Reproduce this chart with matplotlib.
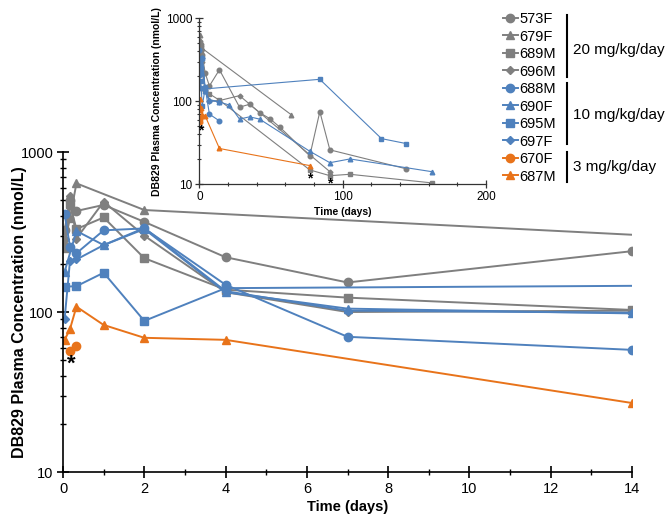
import numpy as np
import matplotlib
matplotlib.use("Agg")
import matplotlib.pyplot as plt
from matplotlib.lines import Line2D
from matplotlib.ticker import FixedLocator, NullFormatter, FixedFormatter, MultipleLocator

plt.rcParams['font.family'] = ['Liberation Sans', 'DejaVu Sans']

# time (days) and DB829 concentration (nmol/L) per animal
# 20 mg/kg/day
t_573F = [0.04, 0.17, 0.33, 1, 2, 4, 7, 14, 28, 35, 42, 49, 56, 77, 84, 91, 144]
v_573F = [325, 500, 428, 467, 366, 220, 153, 240, 85, 92, 73, 62, 49, 22, 75, 26, 15.4]
t_679F = [0.04, 0.17, 0.33, 2, 64]
v_679F = [270, 385, 637, 434, 69]
t_689M = [0.04, 0.17, 0.33, 1, 2, 4, 7, 14, 77, 91, 105, 162]
v_689M = [250, 470, 330, 390, 217, 138, 123, 103, 14.9, 12.7, 13.2, 10.4]
t_696M = [0.04, 0.17, 0.33, 1, 2, 4, 7, 14, 28, 91]
v_696M = [288, 530, 288, 489, 300, 133, 100, 102, 117, 14.2]
# 10 mg/kg/day
t_688M = [0.04, 0.17, 0.33, 1, 2, 4, 7, 14]
v_688M = [410, 256, 233, 324, 333, 148, 70, 58]
t_690F = [0.04, 0.33, 1, 2, 4, 7, 14, 21, 28, 35, 42, 77, 91, 105, 162]
v_690F = [179, 321, 262, 330, 133, 105, 98, 90, 61, 65, 61, 25, 18.2, 20.2, 14.2]
t_695M = [0.04, 0.33, 1, 2, 4, 84, 127, 144]
v_695M = [144, 145, 176, 88, 141, 184, 35.5, 31]
t_697F = [0.04, 0.17, 0.33, 1, 2, 4, 7, 14]
v_697F = [91, 207, 213, 262, 335, 135, 102, 99]
# 3 mg/kg/day
t_670F = [0.17, 0.33]
v_670F = [57, 61]
t_687M = [0.04, 0.17, 0.33, 1, 2, 4, 14, 77]
v_687M = [67, 78, 108, 83, 69, 67, 27, 16.8]

# asterisk positions (days, nmol/L)
star_main = (0.2, 47)
star_inset = [(1, 44), (77, 11.8), (91, 10.3)]

gray = '#7f7f7f'
blue = '#4f81bd'
orange = '#e8731a'

series = [
    ('573F', t_573F, v_573F, gray, 'o', 6),
    ('679F', t_679F, v_679F, gray, '^', 6),
    ('689M', t_689M, v_689M, gray, 's', 5.5),
    ('696M', t_696M, v_696M, gray, 'D', 4.5),
    ('688M', t_688M, v_688M, blue, 'o', 6),
    ('690F', t_690F, v_690F, blue, '^', 6),
    ('695M', t_695M, v_695M, blue, 's', 5.5),
    ('697F', t_697F, v_697F, blue, 'D', 4.5),
    ('670F', t_670F, v_670F, orange, 'o', 6),
    ('687M', t_687M, v_687M, orange, '^', 6),
]

fig = plt.figure(figsize=(6.69, 5.24), dpi=100)
ax = fig.add_axes([0.0942, 0.0992, 0.8505, 0.6107])
axi = fig.add_axes([0.298, 0.6483, 0.4287, 0.3168])

handles = []
for name, t, v, c, m, ms in series:
    ax.plot(t, v, color=c, marker=m, ms=ms, lw=1.4, mec=c)
    axi.plot(t, v, color=c, marker=m, ms=ms * 0.55, lw=0.8, mec=c)
    handles.append(Line2D([], [], color=c, marker=m, ms=ms, lw=1.4, label=name))

# main axes
ax.set_yscale('log')
ax.set_xlim(0, 14)
ax.set_ylim(10, 1000)
ax.yaxis.set_major_locator(FixedLocator([10, 100, 1000]))
ax.yaxis.set_major_formatter(FixedFormatter(['10', '100', '1000']))
ax.yaxis.set_minor_formatter(NullFormatter())
ax.xaxis.set_major_locator(MultipleLocator(2))
ax.xaxis.set_minor_locator(MultipleLocator(1))
for s in ['top', 'right']:
    ax.spines[s].set_visible(False)
for s in ['left', 'bottom']:
    ax.spines[s].set_linewidth(1.2)
ax.tick_params(which='major', direction='inout', length=8, width=1.2, labelsize=10.5, pad=3)
ax.tick_params(which='minor', direction='inout', length=5, width=1)
ax.set_xlabel('Time (days)', fontsize=10.5, fontweight='bold', labelpad=3)
ax.set_ylabel('DB829 Plasma Concentration (nmol/L)', fontsize=11.5, fontweight='bold')
ax.yaxis.set_label_coords(-0.064, 0.5)
ax.text(star_main[0], star_main[1], '*', fontsize=16, fontweight='bold', ha='center', va='center')

# inset axes
axi.set_yscale('log')
axi.set_xlim(0, 200)
axi.set_ylim(10, 1000)
axi.yaxis.set_major_locator(FixedLocator([10, 100, 1000]))
axi.yaxis.set_major_formatter(FixedFormatter(['10', '100', '1000']))
axi.yaxis.set_minor_formatter(NullFormatter())
axi.xaxis.set_major_locator(MultipleLocator(100))
axi.xaxis.set_minor_locator(MultipleLocator(20))
for s in ['top', 'right']:
    axi.spines[s].set_visible(False)
for s in ['left', 'bottom']:
    axi.spines[s].set_linewidth(0.9)
    axi.spines[s].set_color('#333333')
axi.tick_params(which='major', direction='inout', length=6, width=0.9, labelsize=8.5, pad=2, color='#333333')
axi.tick_params(which='minor', direction='inout', length=3.5, width=0.8, color='#333333')
axi.set_xlabel('Time (days)', fontsize=7.5, fontweight='bold', labelpad=3)
axi.set_ylabel('DB829 Plasma Concentration (nmol/L)', fontsize=7.5, fontweight='bold', labelpad=3)
for x, y in star_inset:
    axi.text(x, y, '*', fontsize=10, fontweight='bold', ha='center', va='center')

# legend with dose brackets
fig.legend(handles=handles, loc='upper left', bbox_to_anchor=(0.752, 0.977),
           frameon=False, fontsize=10.5, handlelength=1.0, handletextpad=0.1,
           labelspacing=0.24, borderpad=0, borderaxespad=0)

groups = [('20 mg/kg/day', 15, 77, 50), ('10 mg/kg/day', 83, 144, 115), ('3 mg/kg/day', 152, 182, 167)]
H = 524.0
W = 669.0
for lab, y0, y1, yc in groups:
    fig.add_artist(Line2D([566.7 / W, 566.7 / W], [1 - y0 / H, 1 - y1 / H], color='black', lw=1.5))
    fig.text(573 / W, 1 - yc / H, lab, fontsize=11, va='center', ha='left')

fig.savefig('out.png', dpi=100)
